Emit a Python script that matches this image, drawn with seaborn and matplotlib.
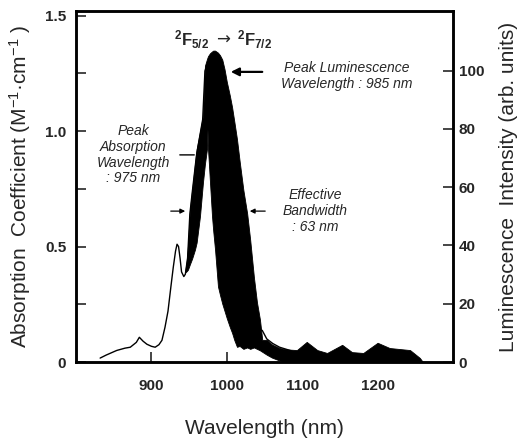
"""Yb absorption / luminescence spectrum chart."""

import matplotlib

matplotlib.use("Agg")
import matplotlib.pyplot as plt
import seaborn as sns
from matplotlib.ticker import FixedLocator

# absorption coefficient (left axis, M^-1 cm^-1)
abs_wl = [832, 840, 854, 865, 872, 880, 884, 889, 894, 900, 905, 910, 914, 918,
          922, 926, 929, 932, 934, 936, 938, 940, 943, 945, 948, 951, 954, 960,
          968, 971, 975, 985, 1000, 1013, 1030, 1047, 1053, 1061, 1070, 1084,
          1100, 1115]
abs_val = [0.017, 0.03, 0.05, 0.06, 0.064, 0.085, 0.107, 0.09, 0.077, 0.068,
           0.064, 0.075, 0.094, 0.15, 0.22, 0.33, 0.41, 0.48, 0.51, 0.50, 0.45,
           0.39, 0.37, 0.38, 0.45, 0.64, 0.73, 0.90, 1.05, 1.26, 1.30, 1.00,
           0.50, 0.20, 0.15, 0.137, 0.10, 0.08, 0.064, 0.05, 0.03, 0.0]

# luminescence band (right axis, arb. units): upper and lower edge of the dark area
lum_wl = [944.6, 947, 948.5, 951, 954, 957.8, 960, 964.4, 968.4, 971, 973.7,
          974.4, 975.1, 977.7, 980.4, 982, 984.4, 988.3, 991, 994, 997, 1000,
          1004, 1007, 1010, 1013.5, 1017, 1022, 1027, 1031, 1036, 1040, 1044,
          1047, 1053, 1060, 1070, 1080, 1093, 1106, 1120, 1133, 1153, 1166,
          1181, 1200, 1216, 1243, 1256, 1260]
lum_upper = [30.7, 35, 40, 52, 59, 68, 73, 79, 84.5, 101.7, 104, 104.5, 105,
             106, 106.6, 106.9, 106.9, 106.2, 105.3, 103.8, 100.5, 96.2, 91.5,
             87.5, 82.5, 76.5, 69, 59, 51, 42, 29, 20.5, 14.5, 7.6, 7.6, 6.0,
             4.8, 4.3, 4.1, 6.9, 4.1, 3.1, 5.9, 3.4, 3.1, 6.6, 4.8, 4.1, 1.4,
             0.0]
lum_lower = [30.7, 31.2, 31.7, 33.5, 35.5, 38.6, 41, 50, 61.7, 68, 73.1, 80,
             73.1, 61.7, 50, 45, 38.6, 25.9, 23, 20, 17.5, 15, 12, 10, 7.5,
             5.2, 5.5, 4.5, 5.0, 4.5, 5.0, 4.5, 4.0, 3.5, 2.5, 1.5, 0.5, 0.0,
             0.0, 0.0, 0.0, 0.0, 0.0, 0.0, 0.0, 0.0, 0.0, 0.0, 0.0, 0.0]

x_ticks = [900, 1000, 1100, 1200]
left_ticks = [0, 0.5, 1.0, 1.5]
left_labels = ["0", "0.5", "1.0", "1.5"]
left_minor = [0.25, 0.75, 1.25]
right_ticks = [0, 20, 40, 60, 80, 100]

sns.set_theme(style="ticks")
plt.rcParams["font.family"] = ["Liberation Sans", "DejaVu Sans"]
plt.rcParams["mathtext.fontset"] = "custom"
plt.rcParams["mathtext.rm"] = "Liberation Sans"
plt.rcParams["mathtext.it"] = "Liberation Sans:italic"
plt.rcParams["mathtext.bf"] = "Liberation Sans:bold"

W, H = 517, 441
fig = plt.figure(figsize=(W / 100, H / 100), dpi=100)
ax = fig.add_axes([76 / W, 1 - 362 / H, (453 - 76) / W, (362 - 11) / H])
ax2 = ax.twinx()

sns.lineplot(x=abs_wl, y=abs_val, ax=ax, color="black", linewidth=1.0)
ax2.fill_between(lum_wl, lum_lower, lum_upper, color="black", linewidth=0.6,
                 edgecolor="black")

ax.set_xlim(800, 1300)
ax.set_ylim(0, 1.52)
ax2.set_ylim(0, 120.5)

ax.set_xticks(x_ticks)
ax.set_xticklabels([str(t) for t in x_ticks])
ax.set_yticks(left_ticks)
ax.set_yticklabels(left_labels)
ax.yaxis.set_minor_locator(FixedLocator(left_minor))
ax2.set_yticks(right_ticks)
ax2.set_yticklabels([str(t) for t in right_ticks])

ax.tick_params(axis="x", direction="in", length=7, width=1.2, pad=12,
               labelsize=11)
ax.tick_params(axis="y", which="both", direction="in", length=7, width=1.2,
               pad=7, labelsize=11)
ax2.tick_params(axis="y", direction="in", length=7, width=1.2, pad=4,
                labelsize=11)
for lab in ax.get_xticklabels() + ax.get_yticklabels() + ax2.get_yticklabels():
    lab.set_fontweight("bold")

for a in (ax, ax2):
    for sp in a.spines.values():
        sp.set_linewidth(1.8)
        sp.set_color("black")

ax.set_xlabel("Wavelength (nm)", fontsize=15, labelpad=19)
ax.set_ylabel("Absorption  Coefficient (M$^{-1}$·cm$^{-1}$ )", fontsize=15,
              labelpad=9)
ax2.set_ylabel("Luminescence  Intensity (arb. units)", fontsize=15,
               labelpad=11)

# transition label: two terms with an arrow between them
ax2.text(976, 110.5, r"$\mathbf{{}^2F_{5/2}}$", fontsize=12,
         ha="right", va="center")
ax2.text(995, 110.8, "→", fontsize=12, family="DejaVu Sans",
         ha="center", va="center")
ax2.text(1013, 110.5, r"$\mathbf{{}^2F_{7/2}}$", fontsize=12,
         ha="left", va="center")

# annotations (placed in right-axis units)
note = dict(fontsize=10, fontstyle="italic", ha="center", va="center",
            linespacing=1.15)
ax2.text(1159, 98.2, "Peak Luminescence\nWavelength : 985 nm", **note)
ax2.annotate("", xy=(1001.6, 99.6), xytext=(1050.7, 99.6),
             arrowprops=dict(arrowstyle="-|>", color="black", lw=1.6,
                             mutation_scale=12))
ax2.text(875.6, 71.1, "Peak\nAbsorption\nWavelength\n: 975 nm", **note)
ax2.annotate("", xy=(960.5, 71.1), xytext=(934, 71.1),
             arrowprops=dict(arrowstyle="-", color="black", lw=1.0))
ax2.text(1117, 51.8, "Effective\nBandwidth\n: 63 nm", **note)
ax2.annotate("", xy=(948.5, 51.8), xytext=(922, 51.8),
             arrowprops=dict(arrowstyle="-|>", color="black", lw=0.9,
                             mutation_scale=7))
ax2.annotate("", xy=(1026.8, 51.8), xytext=(1054.6, 51.8),
             arrowprops=dict(arrowstyle="-|>", color="black", lw=0.9,
                             mutation_scale=7))

fig.savefig("out.png", dpi=100)
